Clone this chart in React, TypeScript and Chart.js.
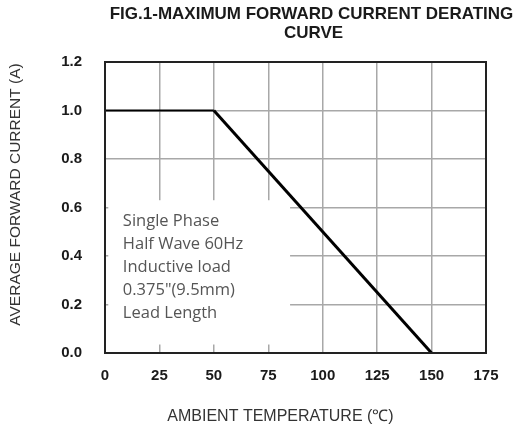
import React, { useEffect, useRef } from "react";
import { Chart, registerables } from "chart.js";

Chart.register(...registerables);

// ---- data ----
const temperatures = [0, 50, 150];
const currents = [1.0, 1.0, 0.0];
const xTicks = [0, 25, 50, 75, 100, 125, 150, 175];
const yTicks = [0, 0.2, 0.4, 0.6, 0.8, 1.0, 1.2];
const titleLines = ["FIG.1-MAXIMUM FORWARD CURRENT DERATING", "CURVE"];
const xTitle = "AMBIENT TEMPERATURE (\u2103)";
const yTitle = "AVERAGE FORWARD CURRENT (A)";
const noteLines = [
  "Single Phase",
  "Half Wave 60Hz",
  "Inductive load",
  "0.375\"(9.5mm)",
  "Lead Length",
];
// note box in data units
const noteBox = { xMin: 1.5, xMax: 85, yMin: 0.035, yMax: 0.63, textX: 8.2, textY: 0.545 };

const decorPlugin = {
  id: "decor",
  beforeDatasetsDraw(chart: any) {
    const { ctx, scales } = chart;
    const x = scales.x, y = scales.y;
    ctx.save();
    ctx.fillStyle = "#ffffff";
    const l = x.getPixelForValue(noteBox.xMin);
    const r = x.getPixelForValue(noteBox.xMax);
    const t = y.getPixelForValue(noteBox.yMax);
    const b = y.getPixelForValue(noteBox.yMin);
    ctx.fillRect(l, t, r - l, b - t);
    ctx.fillStyle = "#555555";
    ctx.font = "16.5px 'Open Sans', sans-serif";
    ctx.textAlign = "left";
    ctx.textBaseline = "middle";
    const tx = x.getPixelForValue(noteBox.textX);
    const ty = y.getPixelForValue(noteBox.textY);
    noteLines.forEach((s, i) => ctx.fillText(s, tx, ty + i * 23));
    ctx.restore();
  },
  afterDraw(chart: any) {
    const { ctx, chartArea } = chart;
    ctx.save();
    // frame
    ctx.strokeStyle = "#222222";
    ctx.lineWidth = 2;
    ctx.strokeRect(chartArea.left, chartArea.top, chartArea.right - chartArea.left, chartArea.bottom - chartArea.top);
    const cx = (chartArea.left + chartArea.right) / 2;
    // title
    ctx.fillStyle = "#1a1a1a";
    ctx.font = "bold 17px 'Liberation Sans', Arial, sans-serif";
    ctx.textAlign = "center";
    ctx.textBaseline = "middle";
    ctx.fillText(titleLines[0], cx + 16, 14);
    ctx.fillText(titleLines[1], cx + 18, 33);
    // x title
    ctx.fillStyle = "#333333";
    ctx.font = "16px 'Liberation Sans', Arial, sans-serif";
    ctx.fillText(xTitle, cx - 15, 417);
    // y title
    ctx.translate(16, (chartArea.top + chartArea.bottom) / 2 - 13);
    ctx.rotate(-Math.PI / 2);
    ctx.font = "15.5px 'Liberation Sans', Arial, sans-serif";
    ctx.fillText(yTitle, 0, 0);
    ctx.restore();
  },
};

export default function App() {
  const ref = useRef<HTMLCanvasElement | null>(null);
  useEffect(() => {
    if (!ref.current) return;
    const chart = new Chart(ref.current, {
      type: "line",
      data: {
        datasets: [
          {
            data: temperatures.map((t, i) => ({ x: t, y: currents[i] })),
            borderColor: "#000000",
            borderWidth: 3,
            pointRadius: 0,
            tension: 0,
            segment: {
              borderWidth: (c: any) => (c.p0DataIndex === 0 ? 2 : 3),
            },
          },
        ],
      },
      options: {
        animation: false,
        responsive: true,
        maintainAspectRatio: false,
        layout: { padding: { top: 62, left: 0, right: 43, bottom: 0 } },
        plugins: { legend: { display: false }, tooltip: { enabled: false }, title: { display: false } },
        scales: {
          x: {
            type: "linear",
            min: 0,
            max: 175,
            afterFit: (s: any) => { s.height = 77; },
            afterBuildTicks: (s: any) => { s.ticks = xTicks.map((v) => ({ value: v })); },
            ticks: {
              color: "#1a1a1a",
              font: { family: "'Liberation Sans', Arial, sans-serif", size: 15, weight: "bold" },
              padding: 14,
              maxRotation: 0,
            },
            grid: { color: "#a8a8a8", lineWidth: 1.5, drawTicks: false },
            border: { color: "#222222", width: 2 },
          },
          y: {
            type: "linear",
            min: 0,
            max: 1.2,
            afterFit: (s: any) => { s.width = 105; },
            afterBuildTicks: (s: any) => { s.ticks = yTicks.map((v) => ({ value: v })); },
            ticks: {
              color: "#1a1a1a",
              font: { family: "'Liberation Sans', Arial, sans-serif", size: 15, weight: "bold" },
              padding: 23,
              callback: (v: any) => Number(v).toFixed(1),
            },
            grid: { color: "#a8a8a8", lineWidth: 1.5, drawTicks: false },
            border: { color: "#222222", width: 2 },
          },
        },
      },
      plugins: [decorPlugin],
    });
    return () => chart.destroy();
  }, []);
  return (
    <div style={{ position: "fixed", left: 0, top: 0, width: 529, height: 430, background: "#fff" }}>
      <canvas ref={ref} />
    </div>
  );
}
